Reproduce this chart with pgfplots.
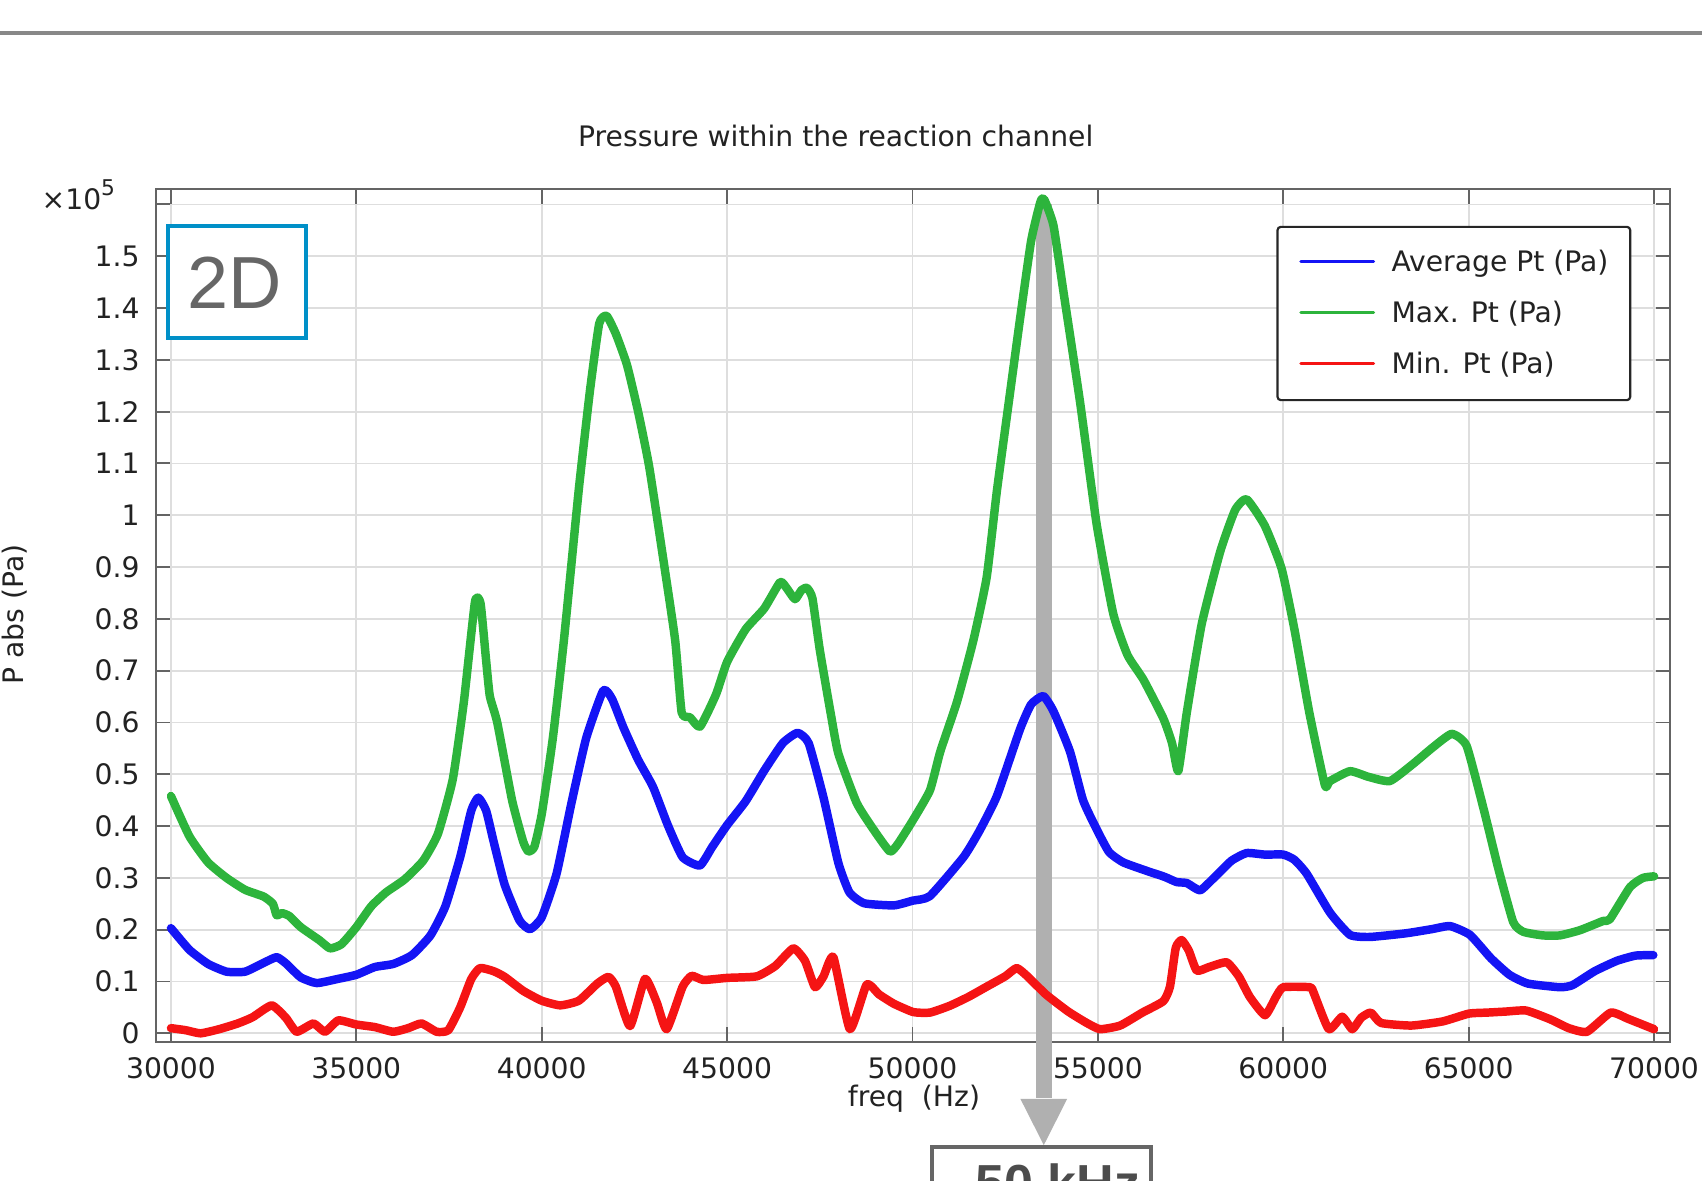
\documentclass[border=0pt]{standalone}
\usepackage{pgfplots}
\pgfplotsset{compat=1.18}
\usepackage{fontspec}
\setmainfont{DejaVu Sans}
\newfontfamily\arialfont{Liberation Sans}

\definecolor{avgblue}{RGB}{20,20,245}
\definecolor{maxgreen}{RGB}{45,180,60}
\definecolor{minred}{RGB}{245,20,20}
\definecolor{axisgray}{RGB}{100,100,100}
\definecolor{gridgray}{RGB}{222,222,222}
\definecolor{framegray}{RGB}{136,136,136}
\definecolor{boxblue}{RGB}{0,144,200}
\definecolor{markergray}{RGB}{176,176,176}
\definecolor{labelgray}{RGB}{102,102,102}
\definecolor{textdark}{RGB}{34,34,34}

% Maximum total pressure (units of 1e5 Pa)
\pgfplotstableread{
f      p
30000  0.458
30500  0.38
31000  0.33
31500  0.30
32000  0.277
32500  0.264
32750  0.25
32850  0.228
33000  0.232
33200  0.226
33500  0.205
34000  0.18
34290  0.164
34600  0.172
35000  0.205
35400  0.245
35800  0.272
36300  0.297
36800  0.333
37200  0.385
37600  0.49
37900  0.64
38200  0.833
38350  0.83
38500  0.72
38600  0.651
38800  0.6
39200  0.45
39500  0.37
39640  0.351
39800  0.36
40000  0.423
40300  0.57
40600  0.76
41000  1.05
41300  1.24
41550  1.37
41750  1.385
42000  1.35
42300  1.29
42600  1.2
42900  1.093
43300  0.905
43600  0.758
43775  0.619
44000  0.61
44270  0.592
44700  0.654
45000  0.717
45500  0.78
46000  0.82
46430  0.871
46600  0.86
46830  0.838
47000  0.855
47150  0.86
47300  0.84
47500  0.74
47800  0.615
48000  0.54
48500  0.444
49000  0.388
49390  0.351
49600  0.365
50000  0.41
50470  0.469
50750  0.544
51200  0.64
51640  0.758
52000  0.88
52276  1.047
52600  1.22
52900  1.379
53200  1.53
53450  1.605
53550  1.61
53800  1.56
54068  1.433
54518  1.219
54966  0.983
55414  0.81
55800  0.73
56226  0.683
56764  0.608
57000  0.56
57168  0.506
57400  0.62
57800  0.79
58300  0.93
58700  1.01
59012  1.031
59500  0.98
59955  0.897
60300  0.78
60700  0.62
61123  0.479
61260  0.487
61800  0.506
62300  0.495
62877  0.487
63500  0.52
64000  0.55
64540  0.578
64944  0.555
65400  0.434
65800  0.318
66200  0.215
66472  0.196
67000  0.189
67460  0.189
68000  0.199
68630  0.217
68806  0.22
69350  0.282
69700  0.3
70000  0.303
}\maxtable

% Average total pressure (units of 1e5 Pa)
\pgfplotstableread{
f      p
30000  0.203
30500  0.161
31000  0.134
31500  0.119
32000  0.119
32500  0.136
32850  0.147
33100  0.135
33500  0.108
33930  0.097
34500  0.105
35000  0.113
35500  0.128
36000  0.134
36500  0.151
37000  0.189
37400  0.245
37800  0.34
38100  0.43
38290  0.455
38500  0.43
38700  0.371
39000  0.287
39400  0.218
39684  0.201
40000  0.224
40400  0.308
40800  0.444
41200  0.57
41661  0.662
41900  0.645
42200  0.591
42600  0.528
43000  0.476
43400  0.402
43800  0.34
44268  0.324
44600  0.36
45000  0.402
45500  0.448
46000  0.507
46500  0.56
46900  0.58
47200  0.56
47600  0.455
48000  0.329
48300  0.272
48700  0.251
49500  0.247
50000  0.256
50470  0.265
51374  0.34
51800  0.39
52276  0.458
52900  0.587
53200  0.635
53527  0.651
53800  0.622
54247  0.544
54600  0.45
54966  0.394
55300  0.35
55684  0.33
56300  0.314
56800  0.302
57123  0.292
57400  0.29
57754  0.276
58100  0.298
58600  0.333
59012  0.348
59500  0.345
60000  0.345
60300  0.335
60632  0.308
61260  0.233
61800  0.19
62335  0.186
63300  0.193
64000  0.201
64497  0.207
65036  0.19
65600  0.145
66100  0.113
66600  0.096
67460  0.089
67800  0.093
68400  0.12
69000  0.14
69500  0.15
69980  0.151
}\avgtable

% Minimum total pressure (units of 1e5 Pa)
\pgfplotstableread{
f      p
30000  0.01
30400  0.006
30800  0.0
31300  0.008
31800  0.019
32200  0.031
32717  0.054
33100  0.03
33390  0.003
33841  0.019
34154  0.003
34514  0.025
35000  0.017
35500  0.012
35996  0.003
36400  0.01
36760  0.019
37167  0.003
37480  0.006
37800  0.05
38100  0.105
38335  0.126
38700  0.12
39000  0.109
39500  0.082
40000  0.063
40500  0.054
41000  0.063
41500  0.096
41800  0.109
42000  0.09
42381  0.014
42785  0.105
43100  0.06
43370  0.008
43800  0.09
44044  0.111
44360  0.103
45000  0.107
45800  0.11
46300  0.13
46784  0.164
47100  0.14
47370  0.089
47600  0.11
47865  0.147
48312  0.008
48763  0.094
49100  0.075
49500  0.057
50022  0.041
50470  0.04
51000  0.053
51500  0.07
52000  0.09
52500  0.11
52810  0.126
53100  0.11
53600  0.075
54200  0.042
54700  0.02
55058  0.008
55600  0.015
56200  0.04
56764  0.062
56944  0.09
57100  0.165
57258  0.18
57450  0.16
57666  0.121
58000  0.128
58474  0.137
58800  0.11
59100  0.07
59508  0.035
59800  0.07
60000  0.089
60720  0.089
60811  0.08
61226  0.008
61587  0.032
61860  0.008
62100  0.03
62362  0.04
62637  0.02
63456  0.015
64300  0.023
65002  0.038
65500  0.04
66000  0.042
66550  0.044
67200  0.027
67700  0.01
68190  0.003
68830  0.04
69300  0.028
70000  0.008
}\mintable

\begin{document}
\fontsize{13pt}{15.6pt}\selectfont
\color{textdark}
\begin{tikzpicture}
\useasboundingbox (0,0) rectangle (784pt,544pt);
\clip (0,0) rectangle (784pt,544pt);

% page rule and title
\draw[framegray, line width=2.1pt] (0,528.8pt) -- (784pt,528.8pt);
\node[anchor=base, inner sep=0pt] at (385pt,476.5pt) {Pressure within the reaction channel};

\begin{axis}[
  at={(72pt,64.2pt)}, anchor=south west,
  scale only axis, width=697.25pt, height=392.55pt,
  xmin=29605, xmax=70430, ymin=-0.016, ymax=1.629,
  clip=false,
  scaled x ticks=false, scaled y ticks=false,
  xtick={30000,35000,40000,45000,50000,55000,60000,65000,70000},
  xticklabels={30000,35000,40000,45000,50000,55000,60000,65000,70000},
  ytick={0,0.1,0.2,0.3,0.4,0.5,0.6,0.7,0.8,0.9,1,1.1,1.2,1.3,1.4,1.5,1.6},
  yticklabels={0,0.1,0.2,0.3,0.4,0.5,0.6,0.7,0.8,0.9,1,1.1,1.2,1.3,1.4,1.5,{}},
  tick align=inside, tick pos=both,
  xticklabel pos=bottom, yticklabel pos=left,
  major tick length=6.5pt,
  tick style={axisgray, line width=0.9pt},
  axis line style={axisgray, line width=1pt},
  grid=major, major grid style={gridgray, line width=0.8pt},
  xticklabel style={anchor=base, inner sep=0pt, yshift=-17.2pt},
  yticklabel style={anchor=east, inner sep=0pt, xshift=-7.5pt},
  legend style={at={(0.740,0.9573)}, anchor=north west,
    draw=black!85, line width=1pt, rounded corners=1.5pt,
    inner xsep=10pt, inner ysep=10.6pt,
    row sep=11.9pt, column sep=7.5pt,
    nodes={inner sep=0pt, text height=9.9pt, text depth=1.7pt, anchor=base west}},
  legend cell align=left,
  legend image code/.code={\draw[#1, line width=1.5pt] (0pt,4.7pt) -- (33.5pt,4.7pt);},
  every axis plot/.append style={line width=3.9pt, line join=round, line cap=round, smooth, tension=0.3},
]
% marker at the 53.5 kHz resonance, behind the curves
\draw[markergray, line width=7.25pt] (axis cs:53541,1.60) -- (axis cs:53541,-0.125);
\fill[markergray] (axis cs:53541,-0.2158) -- ++(-10.75pt,21.25pt) -- ++(21.5pt,0pt) -- cycle;

\addplot[avgblue] table[x=f, y=p] {\avgtable};
\addlegendentry{Average Pt (Pa)}
\addplot[maxgreen] table[x=f, y=p] {\maxtable};
\addlegendentry{Max. Pt (Pa)}
\addplot[minred] table[x=f, y=p] {\mintable};
\addlegendentry{Min. Pt (Pa)}
\end{axis}

% axis annotations
\node[anchor=base west, inner sep=0pt] at (19pt,447.5pt) {×10\raisebox{6.5pt}{\fontsize{10pt}{12pt}\selectfont 5}};
\node[rotate=90, anchor=base, inner sep=0pt] at (10.6pt,261pt) {P abs (Pa)};
\node[anchor=base, inner sep=0pt] at (421pt,34.5pt) {freq\ \ (Hz)};

% 2D tag
\draw[boxblue, line width=2pt, fill=white] (77.5pt,388.25pt) rectangle (141pt,440pt);
\node[anchor=base, inner sep=0pt, text=labelgray] at (108pt,402pt) {\arialfont\fontsize{34pt}{40pt}\selectfont 2D};

% frequency callout
\draw[labelgray, line width=1.8pt] (429.3pt,-20pt) rectangle (530pt,15.8pt);
\node[anchor=base, inner sep=0pt, text=black!70] at (487.25pt,-9.5pt) {\arialfont\bfseries\fontsize{24pt}{28pt}\selectfont 50 kHz};
\end{tikzpicture}
\end{document}
